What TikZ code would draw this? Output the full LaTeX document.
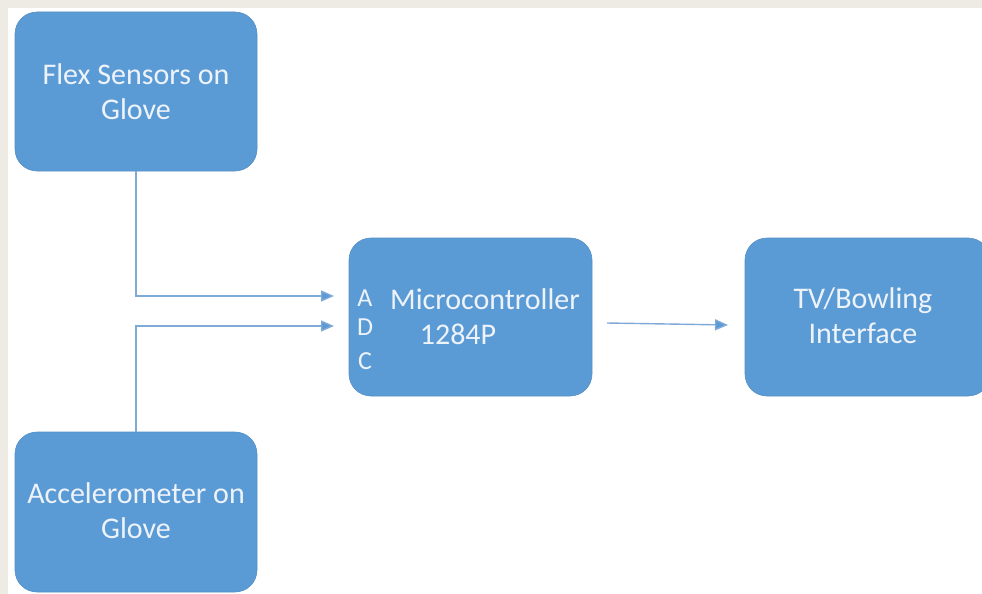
\documentclass[tikz,border=0pt]{standalone}
\usepackage{fontspec}
\setmainfont{Carlito}
\usetikzlibrary{arrows.meta}
\definecolor{boxblue}{HTML}{5B9BD5}
\definecolor{linkblue}{HTML}{7FA9D6}
\definecolor{txtwhite}{HTML}{EEF3FA}
\definecolor{beige}{HTML}{EEEBE4}
\tikzset{
  block/.style={fill=boxblue, draw=boxblue!92!black, line width=0.6pt, rounded corners=22pt, inner sep=0pt},
  lbl/.style={text=txtwhite, font=\fontsize{30}{35}\selectfont, align=center, inner sep=0pt},
  adc/.style={text=txtwhite, font=\fontsize{26}{28}\selectfont, inner sep=0pt},
  link/.style={draw=linkblue, line width=1.4pt, -{Triangle[length=13pt,width=11pt,fill=boxblue]}},
}
\begin{document}
\begin{tikzpicture}[x=1pt,y=-1pt]
\useasboundingbox (0,0) rectangle (982,594);
\fill[beige] (0,0) rectangle (982,594);
\fill[white] (8,8) rectangle (982,594);
% boxes
\path[block] (15,12) rectangle (257,171);
\path[block] (15,432) rectangle (257,592);
\path[block] (349,238) rectangle (592,396);
\path[block] (745,238) rectangle (990,396);
\coordinate (flexb) at (136,171);
\coordinate (accb) at (136,432);
% labels
\node[lbl] (flext) at (136,92) {Flex Sensors on\\Glove};
\node[lbl] (acct) at (136,511) {Accelerometer on\\Glove};
\node[lbl] (tvt) at (863,316) {TV/Bowling\\Interface};
\node[lbl, anchor=base] (mc1) at (485,309) {Microcontroller};
\node[lbl, anchor=base] (mc2) at (458,344) {1284P};
\node[adc, anchor=base] (ca) at (365,306) {A};
\node[adc, anchor=base] (cd) at (365,335) {D};
\node[adc, anchor=base] (cc) at (365,369) {C};
% connectors
\coordinate (inA) at (334,296);
\coordinate (inD) at (334,326);
\coordinate (outS) at (607,323);
\coordinate (outE) at (728,325);
\draw[link] (flexb) |- (inA);
\draw[link] (accb) |- (inD);
\draw[link] (outS) -- (outE);
\end{tikzpicture}
\end{document}
